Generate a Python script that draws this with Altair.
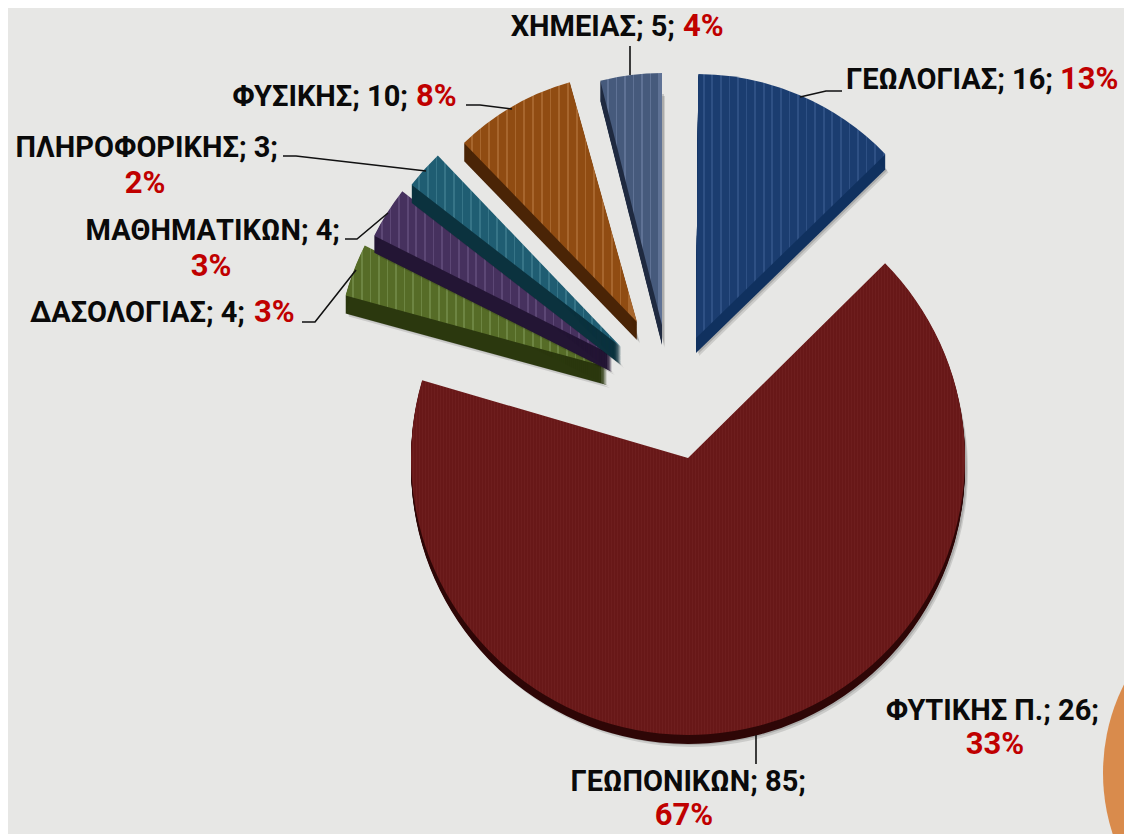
import math
import altair as alt
import pandas as pd

# ---- chart values (clockwise from 12 o'clock) ----
names = ["ΓΕΩΛΟΓΙΑΣ", "ΓΕΩΠΟΝΙΚΩΝ", "ΔΑΣΟΛΟΓΙΑΣ", "ΜΑΘΗΜΑΤΙΚΩΝ", "ΠΛΗΡΟΦΟΡΙΚΗΣ", "ΦΥΣΙΚΗΣ", "ΧΗΜΕΙΑΣ"]
values = [16, 85, 4, 4, 3, 10, 5]
percents = [13, 67, 3, 3, 2, 8, 4]
extra_name = "ΦΥΤΙΚΗΣ Π."
extra_value = 26
extra_percent = 33

# ---- layout and style, page pixels ----
M = 8
W, H = 1116, 826
TOTAL = sum(values)
layout = {
    "ΓΕΩΛΟΓΙΑΣ": dict(cx=696, cy=338, r=264, depth=15, rot=0.5, top="#1b3d70", lite="#2e5084", dark="#10315f"),
    "ΓΕΩΠΟΝΙΚΩΝ": dict(cx=688, cy=458, r=277, depth=9, rot=0.0, top="#681818", lite="#6e1e1e", dark="#2e0606"),
    "ΔΑΣΟΛΟΓΙΑΣ": dict(cx=607, cy=367, r=271, depth=18, rot=-1.0, top="#566c27", lite="#6d8542", dark="#2b380e"),
    "ΜΑΘΗΜΑΤΙΚΩΝ": dict(cx=612, cy=355, r=266, depth=17, rot=-1.0, top="#46315e", lite="#5c4775", dark="#231534"),
    "ΠΛΗΡΟΦΟΡΙΚΗΣ": dict(cx=621, cy=347, r=265, depth=18, rot=-1.2, top="#1f5d72", lite="#367487", dark="#0b323e"),
    "ΦΥΣΙΚΗΣ": dict(cx=637, cy=322, r=249, depth=18, rot=-1.5, top="#904c12", lite="#a7662d", dark="#4a2406"),
    "ΧΗΜΕΙΑΣ": dict(cx=662, cy=325, r=252, depth=20, rot=0.0, top="#465a7c", lite="#5f7295", dark="#1f2a40"),
}
draw_order = ["ΓΕΩΠΟΝΙΚΩΝ", "ΔΑΣΟΛΟΓΙΑΣ", "ΜΑΘΗΜΑΤΙΚΩΝ", "ΠΛΗΡΟΦΟΡΙΚΗΣ", "ΦΥΣΙΚΗΣ", "ΧΗΜΕΙΑΣ", "ΓΕΩΛΟΓΙΑΣ"]
stripe_period = {"ΓΕΩΠΟΝΙΚΩΝ": 3.0}
stripe_share = {"ΓΕΩΠΟΝΙΚΩΝ": 0.5}

FONT = "Roboto"
FS = 29
FS_PCT = 31
BG = "#e7e7e5"

starts, s = {}, 0
for n, v in zip(names, values):
    starts[n] = (s, s + v)
    s += v

theta_scale = alt.Scale(domain=[0, TOTAL], range=[0, 2 * math.pi])
X = lambda f="x": alt.X(f"{f}:Q", scale=None, axis=None)
Y = lambda f="y": alt.Y(f"{f}:Q", scale=None, axis=None)


def stripes(name):
    lay = layout[name]
    a0, a1 = [v / TOTAL * 2 * math.pi for v in starts[name]]
    xs = [0.0]
    steps = 120
    for i in range(steps + 1):
        xs.append(lay["r"] * math.sin(a0 + (a1 - a0) * i / steps))
    width = max(xs) - min(xs)
    period = stripe_period.get(name, 8.5)
    share = stripe_share.get(name, 0.2)
    n = int(width / period)
    stops = []
    for i in range(n):
        o0 = i * period / width
        o1 = (i + 1 - share) * period / width
        o2 = (i + 1) * period / width
        stops += [
            alt.GradientStop(color=lay["top"], offset=o0),
            alt.GradientStop(color=lay["top"], offset=o1),
            alt.GradientStop(color=lay["lite"], offset=o1),
            alt.GradientStop(color=lay["lite"], offset=o2),
        ]
    return alt.LinearGradient(gradient="linear", stops=stops, x1=0, x2=1, y1=0, y2=0)


def arc(name, dx=0, dy_list=(0,), **mark):
    lay = layout[name]
    shift = lay["rot"] / 360 * TOTAL
    a, b = starts[name]
    df = pd.DataFrame(
        [{"x": lay["cx"] - M + dx, "y": lay["cy"] - M + d, "a": a + shift, "b": b + shift} for d in dy_list]
    )
    return alt.Chart(df).mark_arc(radius=lay["r"], **mark).encode(
        x=X(), y=Y(),
        theta=alt.Theta("a:Q", scale=theta_scale, stack=None),
        theta2=alt.Theta2("b:Q"),
    )


layers = []
# decorative disc at the lower right
layers.append(
    alt.Chart(pd.DataFrame({"x": [1300 - M], "y": [773 - M]}))
    .mark_circle(size=4 * 197 ** 2, color="#d98b4c", opacity=1)
    .encode(x=X(), y=Y())
)
# soft shadows, sides, top faces
for n in draw_order:
    d = layout[n]["depth"]
    layers.append(arc(n, dx=3, dy_list=(d + 3,), fill="#000000", opacity=0.12))
    layers.append(arc(n, dx=2, dy_list=(d + 1,), fill="#000000", opacity=0.15))
    layers.append(arc(n, dy_list=tuple(range(1, d + 1)), fill=layout[n]["dark"]))
    layers.append(arc(n, fill=stripes(n)))

# ---- leader lines ----
leaders = [
    ("ΓΕΩΛΟΓΙΑΣ", [(842, 91), (826, 91), (800, 97)]),
    ("ΧΗΜΕΙΑΣ", [(630, 46), (630, 75)]),
    ("ΦΥΣΙΚΗΣ", [(466, 105), (480, 105), (512, 109)]),
    ("ΠΛΗΡΟΦΟΡΙΚΗΣ", [(283, 156), (296, 156), (426, 171)]),
    ("ΜΑΘΗΜΑΤΙΚΩΝ", [(345, 239), (357, 239), (388, 213)]),
    ("ΔΑΣΟΛΟΓΙΑΣ", [(302, 322), (315, 322), (356, 270)]),
    ("ΓΕΩΠΟΝΙΚΩΝ", [(756, 735), (756, 764)]),
]
rows = []
for g, pts in leaders:
    for i, (px, py) in enumerate(pts):
        rows.append({"g": g, "i": i, "x": px - M, "y": py - M})
layers.append(
    alt.Chart(pd.DataFrame(rows))
    .mark_line(color="#111111", strokeWidth=1.6)
    .encode(x=X(), y=Y(), detail="g:N", order="i:Q")
)

# ---- labels: name part right-aligned, percent placed after it or centred below ----
label_pos = {
    "ΧΗΜΕΙΑΣ": (675, 27, 683, 27, "left"),
    "ΓΕΩΛΟΓΙΑΣ": (1053, 80, 1060, 80, "left"),
    "ΦΥΣΙΚΗΣ": (408, 97, 416, 97, "left"),
    "ΠΛΗΡΟΦΟΡΙΚΗΣ": (278, 148, 145, 184, "center"),
    "ΜΑΘΗΜΑΤΙΚΩΝ": (340, 231, 211, 267, "center"),
    "ΔΑΣΟΛΟΓΙΑΣ": (245, 313, 254, 313, "left"),
    "ΓΕΩΠΟΝΙΚΩΝ": (806, 782, 684, 816, "center"),
    extra_name: (1099, 711, 995, 745, "center"),
}
all_names = names + [extra_name]
all_vals = values + [extra_value]
all_pcts = percents + [extra_percent]
name_rows, pct_rows = [], []
for n, v, p in zip(all_names, all_vals, all_pcts):
    nx, ny, px, py, al = label_pos[n]
    name_rows.append({"x": nx - M, "y": ny - M, "t": f"{n}; {v};"})
    pct_rows.append({"x": px - M, "y": py - M, "t": f"{p}%", "al": al})

layers.append(
    alt.Chart(pd.DataFrame(name_rows))
    .mark_text(font=FONT, fontSize=FS, fontWeight="bold", color="#0a0a0a", align="right", baseline="middle")
    .encode(x=X(), y=Y(), text="t:N")
)
pct_df = pd.DataFrame(pct_rows)
for al in ["left", "center"]:
    layers.append(
        alt.Chart(pct_df[pct_df["al"] == al])
        .mark_text(font=FONT, fontSize=FS_PCT, fontWeight="bold", color="#c00000", align=al, baseline="middle")
        .encode(x=X(), y=Y(), text="t:N")
    )

chart = (
    alt.layer(*layers)
    .properties(width=W, height=H, background=BG, padding=0, autosize=alt.AutoSizeParams(type="none"))
    .configure_view(stroke=None)
)
chart.save("out.html", embed_options={"renderer": "svg", "actions": False})
